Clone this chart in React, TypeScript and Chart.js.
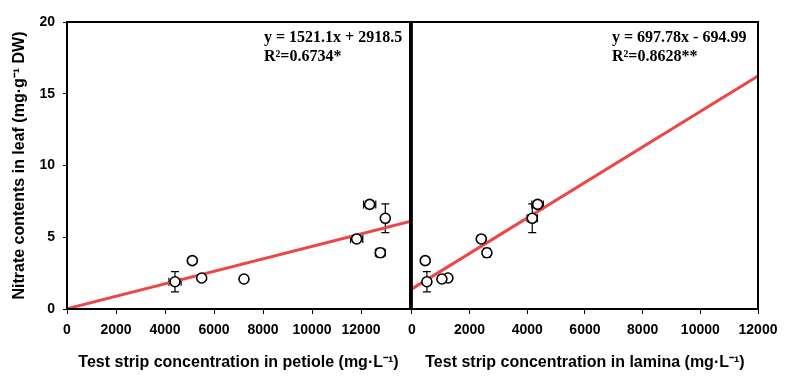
import React, { useEffect, useRef } from "react";
import { Chart, registerables } from "chart.js";
Chart.register(...registerables);

// ---- data ----
const nitrate = [1.9, 3.37, 2.16, 2.09, 4.88, 7.29, 6.32, 3.92];
const nitrateErr = [0.7, 0, 0, 0, 0, 0.25, 1.0, 0.3];
const petiole = [4408, 5115, 5497, 7224, 11823, 12353, 12992, 12788];
const petioleErr = [250, 0, 0, 0, 250, 250, 0, 200];
const lamina = [520, 462, 1249, 1040, 2405, 4360, 4173, 2601];
const laminaErr = [0, 0, 0, 0, 0, 200, 180, 0];
const petioleFitX = [0, 14000];
const petioleFitY = [0.02, 6.1];
const laminaFitX = [0, 12000];
const laminaFitY = [1.4, 16.24];
const xTicks = [0, 2000, 4000, 6000, 8000, 10000, 12000];
const yTicks = [0, 5, 10, 15, 20];
const petioleEq = ["y = 1521.1x + 2918.5", "R²=0.6734*"];
const laminaEq = ["y = 697.78x - 694.99", "R²=0.8628**"];
const yTitle = "Nitrate contents in leaf (mg·g⁻¹ DW)";
const petioleTitle = "Test strip concentration in petiole (mg·L⁻¹)";
const laminaTitle = "Test strip concentration in lamina (mg·L⁻¹)";

const SANS = "'Liberation Sans', Arial, sans-serif";
const NARROW = "'Liberation Sans Narrow', 'Liberation Sans', Arial, sans-serif";
const SERIF = "'Liberation Serif', 'Times New Roman', serif";
const RED = "rgb(236, 70, 70)";

const errorBarPlugin = {
  id: "errorBars",
  beforeDatasetsDraw(chart: any, _a: any, opts: any) {
    const { ctx } = chart;
    const xs = chart.scales.x;
    const ys = chart.scales.y;
    const cap = 4;
    ctx.save();
    ctx.strokeStyle = "#000";
    ctx.lineWidth = 1.2;
    opts.x.forEach((xv: number, i: number) => {
      const yv = opts.y[i];
      const px = xs.getPixelForValue(xv);
      const py = ys.getPixelForValue(yv);
      const ye = opts.yErr[i];
      const xe = opts.xErr[i];
      ctx.beginPath();
      if (ye > 0) {
        const t = ys.getPixelForValue(yv + ye);
        const b = ys.getPixelForValue(yv - ye);
        ctx.moveTo(px, t); ctx.lineTo(px, b);
        ctx.moveTo(px - cap, t); ctx.lineTo(px + cap, t);
        ctx.moveTo(px - cap, b); ctx.lineTo(px + cap, b);
      }
      if (xe > 0) {
        const l = xs.getPixelForValue(xv - xe);
        const r = xs.getPixelForValue(xv + xe);
        ctx.moveTo(l, py); ctx.lineTo(r, py);
        ctx.moveTo(l, py - cap); ctx.lineTo(l, py + cap);
        ctx.moveTo(r, py - cap); ctx.lineTo(r, py + cap);
      }
      ctx.stroke();
    });
    ctx.restore();
  },
};

const framePlugin = {
  id: "frame",
  afterDraw(chart: any, _a: any, opts: any) {
    const { ctx, chartArea: a } = chart;
    ctx.save();
    ctx.strokeStyle = "#000";
    ctx.lineWidth = 2;
    ctx.strokeRect(a.left, a.top, a.right - a.left, a.bottom - a.top);
    ctx.fillStyle = "#000";
    ctx.font = `bold 16px ${SERIF}`;
    ctx.textAlign = "left";
    ctx.textBaseline = "alphabetic";
    const lines: string[] = opts.lines || [];
    lines.forEach((t, i) => ctx.fillText(t, a.right - 146, a.top + 20 + i * 19));
    ctx.restore();
  },
};

function makeConfig(
  xVals: number[],
  xErr: number[],
  fitX: number[],
  fitY: number[],
  xMax: number,
  title: string,
  eq: string[],
  showY: boolean,
  padding: any
): any {
  return {
    type: "scatter",
    data: {
      datasets: [
        {
          type: "scatter",
          data: xVals.map((x, i) => ({ x, y: nitrate[i] })),
          pointRadius: 5,
          pointBackgroundColor: "#fff",
          pointBorderColor: "#000",
          pointBorderWidth: 1.6,
          order: 0,
        },
        {
          type: "line",
          data: fitX.map((x, i) => ({ x, y: fitY[i] })),
          borderColor: RED,
          borderWidth: 3,
          pointRadius: 0,
          fill: false,
          showLine: true,
          order: 1,
        },
      ],
    },
    options: {
      responsive: false,
      animation: false,
      layout: { padding },
      plugins: {
        legend: { display: false },
        tooltip: { enabled: false },
        errorBars: { x: xVals, y: nitrate, xErr, yErr: nitrateErr },
        frame: { lines: eq },
      },
      scales: {
        x: {
          type: "linear",
          min: 0,
          max: xMax,
          afterBuildTicks: (s: any) => {
            s.ticks = xTicks.map((v) => ({ value: v }));
          },
          afterFit: (s: any) => {
            s.height = 70;
          },
          border: { display: false },
          grid: { drawOnChartArea: false, drawTicks: true, tickLength: 5, color: "#000" },
          ticks: {
            color: "#000",
            font: { family: SANS, size: 14, weight: "bold" },
            padding: 8,
            maxRotation: 0,
            autoSkip: false,
            callback: (v: any) => String(v),
          },
          title: {
            display: true,
            text: title,
            color: "#000",
            font: { family: SANS, size: 16, weight: "bold" },
            padding: { top: 0, bottom: 7 },
          },
        },
        y: {
          type: "linear",
          display: showY,
          min: 0,
          max: 20,
          afterBuildTicks: (s: any) => {
            s.ticks = yTicks.map((v) => ({ value: v }));
          },
          afterFit: (s: any) => {
            s.width = showY ? 67 : 0;
          },
          border: { display: false },
          grid: { drawOnChartArea: false, drawTicks: true, tickLength: 4, color: "#000" },
          ticks: {
            color: "#000",
            font: { family: NARROW, size: 14, weight: "bold" },
            padding: 8,
          },
          title: {
            display: true,
            text: yTitle,
            color: "#000",
            font: { family: SANS, size: 16, weight: "bold" },
            padding: { top: 10, bottom: 0 },
          },
        },
      },
    },
    plugins: [errorBarPlugin, framePlugin],
  };
}

export default function App() {
  const ref1 = useRef<HTMLCanvasElement>(null);
  const ref2 = useRef<HTMLCanvasElement>(null);

  useEffect(() => {
    const c1 = new Chart(
      ref1.current as HTMLCanvasElement,
      makeConfig(petiole, petioleErr, petioleFitX, petioleFitY, 14000, petioleTitle, petioleEq, true, {
        top: 22,
        right: 10,
        left: 0,
        bottom: 0,
      })
    );
    const c2 = new Chart(
      ref2.current as HTMLCanvasElement,
      makeConfig(lamina, laminaErr, laminaFitX, laminaFitY, 12000, laminaTitle, laminaEq, false, {
        top: 22,
        right: 29,
        left: 10,
        bottom: 0,
      })
    );
    return () => {
      c1.destroy();
      c2.destroy();
    };
  }, []);

  return (
    <div
      style={{
        position: "fixed",
        left: 0,
        top: 0,
        width: 787,
        height: 379,
        background: "#fff",
        overflow: "hidden",
      }}
    >
      <canvas
        ref={ref1}
        width={420}
        height={379}
        style={{ position: "absolute", left: 0, top: 0, width: 420, height: 379 }}
      />
      <canvas
        ref={ref2}
        width={387}
        height={379}
        style={{ position: "absolute", left: 400, top: 0, width: 387, height: 379 }}
      />
    </div>
  );
}
